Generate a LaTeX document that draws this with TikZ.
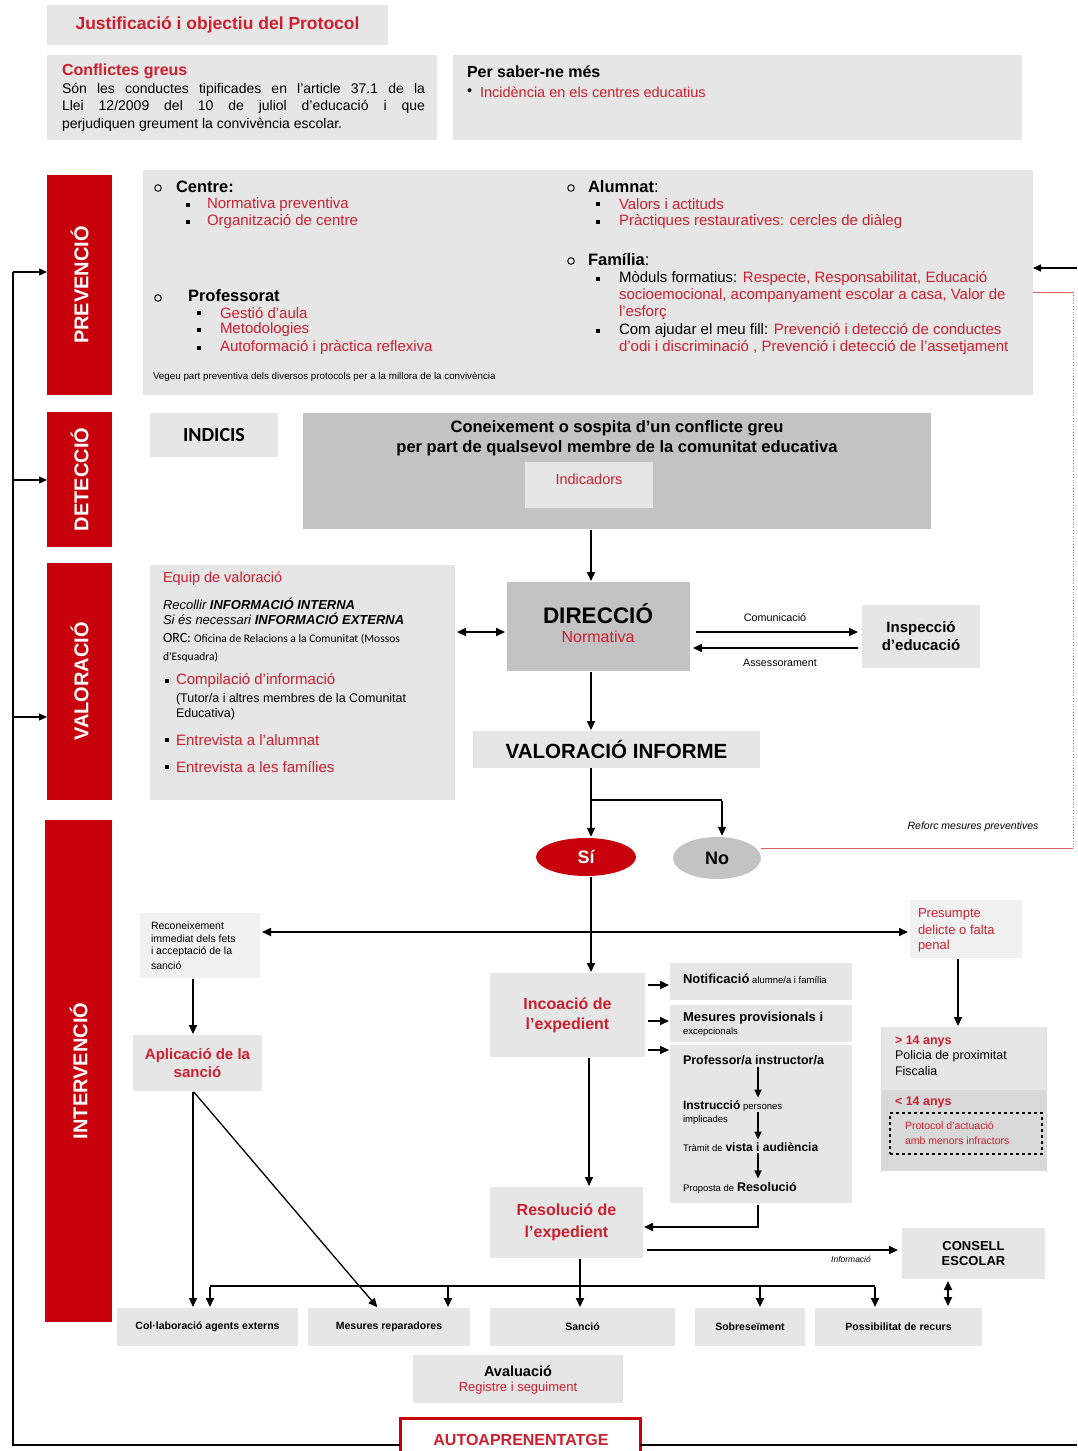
\documentclass[tikz,border=0pt]{standalone}
\usepackage{fontspec}
\setmainfont{Liberation Sans}
\newfontfamily\calib{Carlito}
\usetikzlibrary{arrows.meta,shapes.geometric}
\definecolor{boxg}{HTML}{E6E6E6}
\definecolor{boxl}{HTML}{F1F1F1}
\definecolor{boxd}{HTML}{C3C3C3}
\definecolor{boxm}{HTML}{D9D9D9}
\definecolor{rbar}{HTML}{C8000C}
\definecolor{rtxt}{HTML}{CC1F2F}
\definecolor{rline}{HTML}{E06060}
\newcommand{\fs}[2]{\fontsize{#1}{#2}\selectfont}
\newcommand{\bx}[7][]{\node[box,minimum width={(#5-#3)*1pt},minimum height={(#6-#4)*1pt},#1] (#2) at ({(#3+#5)/2},{(#4+#6)/2}) {#7};}
\newcommand{\sqb}[2]{\fill (#1-1.8,#2-1.8) rectangle (#1+1.8,#2+1.8);}
\newcommand{\ocirc}[2]{\draw[line width=0.9pt] (#1,#2) circle[radius=3.3pt];}
\begin{document}
\begin{tikzpicture}[x=1pt,y=-1pt,
 box/.style={fill=boxg,inner sep=0pt,outer sep=0pt,align=center},
 txt/.style={inner sep=0pt,outer sep=0pt,anchor=west},
 ctxt/.style={inner sep=0pt,outer sep=0pt,align=center},
 arr/.style={-{Triangle[length=9pt,width=8pt]},line width=1.7pt,shorten >=1pt,shorten <=1pt},
 sarr/.style={-{Triangle[length=8pt,width=7pt]},line width=1.5pt},
 darr/.style={{Triangle[length=9pt,width=8pt]}-{Triangle[length=9pt,width=8pt]},line width=1.7pt,shorten >=2pt,shorten <=2pt},
 tarr/.style={-{Triangle[length=8pt,width=7pt]},line width=1.3pt},
 conn/.style={line width=1.7pt},
 fb/.style={line width=1.4pt},
 rl/.style={draw=rline,line width=0.8pt}
]
\fill[white] (0,0) rectangle (1077,1451);
\useasboundingbox (0,0) rectangle (1077,1451);

% ---------- top ----------
\bx[font=\bfseries\fs{17.5}{20},text=rtxt]{just}{47}{5}{388}{45}{Justificació i objectiu del Protocol}
\bx{conf}{47}{55}{437}{140}{}
\node[txt,font=\bfseries\fs{16}{19},text=rtxt] (confT) at (62,71) {Conflictes greus};
\node[txt,font=\fs{14}{16}] (confL1) at (62,90) {\makebox[363pt][s]{Són les conductes tipificades en l'article 37.1 de la}};
\node[txt,font=\fs{14}{16}] (confL2) at (62,107) {\makebox[363pt][s]{Llei 12/2009 del 10 de juliol d'educació i que}};
\node[txt,font=\fs{14}{16}] (confL3) at (62,125) {perjudiquen greument la convivència escolar.};
\bx{saber}{453}{55}{1022}{140}{}
\node[txt,font=\bfseries\fs{16}{19}] (saberT) at (467,72) {Per saber-ne més};
\node[txt,font=\fs{14.5}{17}] (saberB) at (467,92) {•};
\node[txt,font=\fs{14.5}{17},text=rtxt] (saberL) at (480,92) {Incidència en els centres educatius};

% ---------- red bars ----------
\bx[fill=rbar]{barP}{47}{175}{112}{395}{}
\bx[fill=rbar]{barD}{47}{412}{112}{547}{}
\bx[fill=rbar]{barV}{47}{563}{112}{800}{}
\bx[fill=rbar]{barI}{45}{820}{112}{1322}{}
\node[rotate=90,text=white,font=\bfseries\fs{20}{22}] (barPt) at (barP) {PREVENCIÓ};
\node[rotate=90,text=white,font=\bfseries\fs{20}{22}] (barDt) at (barD) {DETECCIÓ};
\node[rotate=90,text=white,font=\bfseries\fs{20}{22}] (barVt) at (barV) {VALORACIÓ};
\node[rotate=90,text=white,font=\bfseries\fs{20}{22}] (barIt) at (barI) {INTERVENCIÓ};

% ---------- prevencio ----------
\bx{prevbox}{143}{170}{1033}{395}{}
\ocirc{158}{188}
\node[txt,font=\bfseries\fs{16.5}{19}] (centreT) at (176,187) {Centre:};
\sqb{188}{205}\sqb{188}{222}
\node[txt,font=\fs{15}{18},text=rtxt] (ce1) at (207,205) {Normativa preventiva};
\node[txt,font=\fs{15}{18},text=rtxt] (ce2) at (207,222) {Organització de centre};
\ocirc{158}{298}
\node[txt,font=\bfseries\fs{16.5}{19}] (profT0) at (188,296) {Professorat};
\sqb{199}{313}\sqb{199}{330}\sqb{199}{348}
\node[txt,font=\fs{15}{18},text=rtxt] (pr1) at (220,313) {Gestió d'aula};
\node[txt,font=\fs{15}{18},text=rtxt] (pr2) at (220,330) {Metodologies};
\node[txt,font=\fs{15}{18},text=rtxt] (pr3) at (220,348) {Autoformació i pràctica reflexiva};
\node[txt,font=\fs{9.8}{11}] (vegeu) at (153,377) {Vegeu part preventiva dels diversos protocols per a la millora de la convivència};
\ocirc{571}{188}
\node[txt,font=\fs{16.5}{19}] (alT) at (588,187) {\textbf{Alumnat}:};
\sqb{598}{204}\sqb{598}{222}
\node[txt,font=\fs{15}{18},text=rtxt] (al1) at (619,204) {Valors i actituds};
\node[txt,font=\fs{15}{18},text=rtxt] (al2) at (619,222) {Pràctiques restauratives: cercles de diàleg};
\ocirc{571}{261}
\node[txt,font=\fs{16.5}{19}] (faT) at (588,260) {\textbf{Família}:};
\sqb{598}{279}\sqb{598}{331}
\node[txt,font=\fs{15}{18}] (fa1) at (619,279) {Mòduls formatius: \textcolor{rtxt}{Respecte, Responsabilitat, Educació}};
\node[txt,font=\fs{15}{18},text=rtxt] (fa2) at (619,296) {socioemocional, acompanyament escolar a casa, Valor de};
\node[txt,font=\fs{15}{18},text=rtxt] (fa3) at (619,313) {l'esforç};
\node[txt,font=\fs{15}{18}] (fa4) at (619,331) {Com ajudar el meu fill: \textcolor{rtxt}{Prevenció i detecció de conductes}};
\node[txt,font=\fs{15}{18},text=rtxt] (fa5) at (619,348) {d'odi i discriminació , Prevenció i detecció de l'assetjament};

% ---------- deteccio ----------
\bx[font=\calib\bfseries\fs{20}{24}]{indicis}{150}{413}{278}{457}{INDICIS}
\bx[fill=boxd]{con}{303}{413}{931}{529}{}
\node[ctxt,font=\bfseries\fs{16.5}{20}] (conT) at (617,438) {Coneixement o sospita d'un conflicte greu\\per part de qualsevol membre de la comunitat educativa};
\bx{indic}{525}{462}{653}{508}{}
\node[ctxt,font=\fs{14.5}{17},text=rtxt] (indicT) at (589,479) {Indicadors};

% ---------- valoracio ----------
\bx{valbox}{150}{565}{455}{800}{}
\node[txt,font=\fs{14.5}{17},text=rtxt] (eqT) at (163,579) {Equip de valoració};
\node[txt,font=\itshape\fs{13}{15}] (rec1) at (163,604) {Recollir \textbf{INFORMACIÓ INTERNA}};
\node[txt,font=\itshape\fs{13}{15}] (rec2) at (163,619) {Si és necessari \textbf{INFORMACIÓ EXTERNA}};
\node[txt,font=\calib\fs{14}{16}] (orc1) at (163,639) {ORC: {\fs{11.5}{13}Oficina de Relacions a la Comunitat (Mossos}};
\node[txt,font=\calib\fs{11.5}{13}] (orc2) at (163,657) {d'Esquadra)};
\sqb{167}{681}\sqb{167}{740}\sqb{167}{767}
\node[txt,font=\fs{15}{18},text=rtxt] (vb1) at (176,681) {Compilació d'informació};
\node[txt,font=\fs{12.5}{15}] (vb1a) at (176,699) {(Tutor/a i altres membres de la Comunitat};
\node[txt,font=\fs{12.5}{15}] (vb1b) at (176,714) {Educativa)};
\node[txt,font=\fs{15}{18},text=rtxt] (vb2) at (176,740) {Entrevista a l'alumnat};
\node[txt,font=\fs{15}{18},text=rtxt] (vb3) at (176,767) {Entrevista a les famílies};

\bx[fill=boxd]{dir}{507}{582}{690}{671}{}
\node[ctxt,font=\bfseries\fs{22.5}{25}] (dirT) at (598,614) {DIRECCIÓ};
\node[ctxt,font=\fs{16}{18},text=rtxt] (dirN) at (598,637) {Normativa};
\bx[font=\bfseries\fs{15}{18}]{insp}{862}{605}{980}{668}{Inspecció\\d'educació}
\node[ctxt,font=\fs{10.8}{12}] (lcom) at (775,618) {Comunicació};
\node[ctxt,font=\fs{10.7}{12}] (lass) at (780,663) {Assessorament};
\bx[font=\bfseries\fs{20.5}{23}]{valinf}{473}{731}{760}{768}{VALORACIÓ INFORME}

\node[ellipse,fill=rbar,minimum width=100pt,minimum height=38pt,inner sep=0pt,text=white,font=\bfseries\fs{18}{20}] (si) at (586,857) {Sí};
\node[ellipse,fill=boxd,minimum width=88pt,minimum height=42pt,inner sep=0pt,font=\bfseries\fs{18}{20}] (no) at (717,858) {No};
\node[ctxt,font=\itshape\fs{10.5}{12}] (reforc) at (973,827) {Reforc mesures preventives};

% ---------- intervencio ----------
\bx[fill=boxl]{rec}{140}{913}{260}{978}{}
\node[txt,font=\fs{10.5}{12}] (rc1) at (151,926) {Reconeixement};
\node[txt,font=\fs{10.5}{12}] (rc2) at (151,939) {immediat dels fets};
\node[txt,font=\fs{10.5}{12}] (rc3) at (151,952) {i acceptació de la};
\node[txt,font=\fs{10.5}{12}] (rc4) at (151,966) {sanció};
\bx[font=\bfseries\fs{15}{18},text=rtxt]{apl}{133}{1035}{262}{1091}{Aplicació de la\\sanció}
\bx[fill=boxl]{pres}{910}{900}{1022}{958}{}
\node[txt,font=\fs{13}{15},text=rtxt] (ps1) at (918,914) {Presumpte};
\node[txt,font=\fs{13}{15},text=rtxt] (ps2) at (918,930) {delicte o falta};
\node[txt,font=\fs{13}{15},text=rtxt] (ps3) at (918,946) {penal};
\bx{age}{881}{1027}{1047}{1171}{}
\bx[fill=boxm]{agelow}{881}{1090}{1047}{1171}{}
\node[txt,font=\bfseries\fs{12.5}{14},text=rtxt] (ag1) at (895,1041) {> 14 anys};
\node[txt,font=\fs{12.5}{14}] (ag2) at (895,1056) {Policia de proximitat};
\node[txt,font=\fs{12.5}{14}] (ag3) at (895,1071) {Fiscalia};
\node[txt,font=\bfseries\fs{12.5}{14},text=rtxt] (ag4) at (895,1102) {< 14 anys};
\bx[fill=none,draw,dashed,line width=1.3pt]{prot}{890}{1113}{1042}{1154}{}
\node[txt,font=\fs{10.5}{12},text=rtxt] (pt1) at (905,1126) {Protocol d'actuació};
\node[txt,font=\fs{10.5}{12},text=rtxt] (pt2) at (905,1141) {amb menors infractors};

\bx[font=\bfseries\fs{16}{20},text=rtxt]{inc}{490}{973}{645}{1057}{Incoació de\\l'expedient}
\bx{notif}{670}{963}{852}{1000}{}
\node[txt] (nt) at (683,979) {{\bfseries\fs{13}{15}Notificació} {\fs{9.5}{11}alumne/a i família}};
\bx{mes}{670}{1005}{852}{1042}{}
\node[txt,font=\bfseries\fs{13}{15}] (ms1) at (683,1018) {Mesures provisionals i};
\node[txt,font=\fs{9.5}{11}] (ms2) at (683,1032) {excepcionals};
\bx{prof}{670}{1045}{852}{1203}{}
\node[txt,font=\bfseries\fs{12.5}{14}] (t1) at (683,1060) {Professor/a instructor/a};
\node[txt] (t2) at (683,1106) {{\bfseries\fs{12}{14}Instrucció} {\fs{9.5}{11}persones}};
\node[txt,font=\fs{9.5}{11}] (t2b) at (683,1120) {implicades};
\node[txt] (t3) at (683,1147) {{\fs{9.5}{11}Tràmit de} {\bfseries\fs{12}{14}vista i audiència}};
\node[txt] (t4) at (683,1188) {{\fs{9.5}{11}Proposta de} {\bfseries\fs{12.5}{14}Resolució}};
\bx[font=\bfseries\fs{16}{22},text=rtxt]{res}{490}{1187}{643}{1258}{Resolució de\\l'expedient}
\bx[font=\bfseries\fs{13}{15}]{consell}{902}{1228}{1045}{1279}{CONSELL\\ESCOLAR}
\node[ctxt,font=\itshape\fs{8.5}{10}] (linfo) at (851,1259) {Informació};

\bx[font=\bfseries\fs{10.5}{12}]{colab}{117}{1308}{298}{1346}{Col·laboració agents externs}
\bx[font=\bfseries\fs{10.5}{12}]{mesr}{308}{1308}{470}{1346}{Mesures reparadores}
\bx[font=\bfseries\fs{10.5}{12}]{sancio}{490}{1308}{675}{1346}{Sanció}
\bx[font=\bfseries\fs{10.5}{12}]{sobre}{695}{1308}{805}{1346}{Sobreseïment}
\bx[font=\bfseries\fs{10.5}{12}]{recurs}{815}{1308}{982}{1346}{Possibilitat de recurs}
\bx{aval}{413}{1355}{623}{1403}{}
\node[ctxt,font=\bfseries\fs{14.5}{17}] (avT) at (518,1371) {Avaluació};
\node[ctxt,font=\fs{13}{15},text=rtxt] (avS) at (518,1388) {Registre i seguiment};
\bx[fill=white,draw=rbar,line width=3pt]{auto}{400}{1418}{640}{1472}{}
\node[ctxt,font=\bfseries\fs{16}{18},text=rtxt] (autoT) at (521,1440) {AUTOAPRENENTATGE};

% ---------- coordinates ----------
\coordinate (fbP) at (13,272);
\coordinate (fbD) at (13,480);
\coordinate (fbV) at (13,717);
\coordinate (fbBL) at (13,1445);
\coordinate (fbBR) at (1077,1445);
\coordinate (fbR) at (1077,268);
\coordinate (rdA) at (1073,292);
\coordinate (rdB) at (1073,848);
\coordinate (cxA) at (591,0);
\coordinate (brY) at (0,800);
\coordinate (cxNo) at (722,0);
\coordinate (rV) at (0,632);
\coordinate (rC) at (0,632);
\coordinate (rA) at (0,648);
\coordinate (r932) at (0,932);
\coordinate (cxL) at (193,0);
\coordinate (cxM) at (378,0);
\coordinate (cxP) at (958,0);
\coordinate (r985) at (0,985);
\coordinate (r1021) at (0,1021);
\coordinate (r1050) at (0,1050);
\coordinate (cx758) at (758,0);
\coordinate (r1227) at (0,1227);
\coordinate (cxI) at (589,0);
\coordinate (rRC) at (0,1250);
\coordinate (cxC) at (948,0);
\coordinate (cxR) at (580,0);
\coordinate (hb1) at (210,1286);
\coordinate (hb2) at (875,1286);
\coordinate (hb3) at (448,1286);
\coordinate (hb4) at (760,1286);

% ---------- connectors ----------
\draw[fb] (auto.west) -- (fbBL) -- (fbP);
\draw[fb] (auto.east) -- (fbBR);
\draw[tarr] (fbP) -- (fbP -| barP.west);
\draw[tarr] (fbD) -- (fbD -| barD.west);
\draw[tarr] (fbV) -- (fbV -| barV.west);
\draw[sarr] (fbR) -- (fbR -| prevbox.east);
\draw[rl] (prevbox.east |- rdA) -- (rdA);
\draw[rl,dotted,line width=1pt] (rdA) -- (rdB);
\draw[rl] (rdB) -- (no.east |- rdB);

\draw[arr] (con.south -| cxA) -- (dir.north -| cxA);
\draw[darr] (valbox.east |- rV) -- (dir.west |- rV);
\draw[arr,shorten <=6pt,shorten >=4pt] (dir.east |- rC) -- (insp.west |- rC);
\draw[arr,shorten <=4pt,shorten >=3pt] (insp.west |- rA) -- (dir.east |- rA);
\draw[arr] (dir.south -| cxA) -- (valinf.north -| cxA);
\draw[conn] (valinf.south -| cxA) -- (cxA |- brY) -- (cxNo |- brY);
\draw[arr] (cxA |- brY) -- (si.north -| cxA);
\draw[arr] (cxNo |- brY) -- (no.north -| cxNo);
\draw[arr] (si.south -| cxA) -- (inc.north -| cxA);
\draw[darr] (rec.east |- r932) -- (pres.west |- r932);
\draw[arr] (rec.south -| cxL) -- (apl.north -| cxL);
\draw[arr] (pres.south -| cxP) -- (age.north -| cxP);
\draw[arr,shorten <=3pt] (inc.east |- r985) -- (notif.west |- r985);
\draw[arr,shorten <=3pt] (inc.east |- r1021) -- (mes.west |- r1021);
\draw[arr,shorten <=3pt] (inc.east |- r1050) -- (prof.west |- r1050);
\draw[sarr,shorten <=2pt,shorten >=3pt] (t1.south -| cx758) -- (t2.north -| cx758);
\draw[sarr,shorten <=1pt,shorten >=3pt] (t2.south -| cx758) -- (t3.north -| cx758);
\draw[sarr,shorten <=2pt,shorten >=4pt] (t3.south -| cx758) -- (t4.north -| cx758);
\draw[arr,shorten <=2pt] (prof.south -| cx758) -- (cx758 |- r1227) -- (res.east |- r1227);
\draw[arr] (inc.south -| cxI) -- (res.north -| cxI);
\draw[arr,shorten <=4pt,shorten >=4pt] (res.east |- rRC) -- (consell.west |- rRC);
\draw[darr] (consell.south -| cxC) -- (recurs.north -| cxC);
\draw[conn] (hb1) -- (hb2);
\draw[arr] (res.south -| cxR) -- (sancio.north -| cxR);
\draw[arr] (hb1) -- (hb1 |- colab.north);
\draw[arr] (hb2) -- (hb2 |- recurs.north);
\draw[arr] (hb3) -- (hb3 |- mesr.north);
\draw[arr] (hb4) -- (hb4 |- sobre.north);
\draw[arr,line width=1.4pt] (apl.south -| cxL) -- (colab.north -| cxL);
\draw[arr,line width=1.3pt] (apl.south -| cxL) -- (mesr.north -| cxM);
\end{tikzpicture}
\end{document}
